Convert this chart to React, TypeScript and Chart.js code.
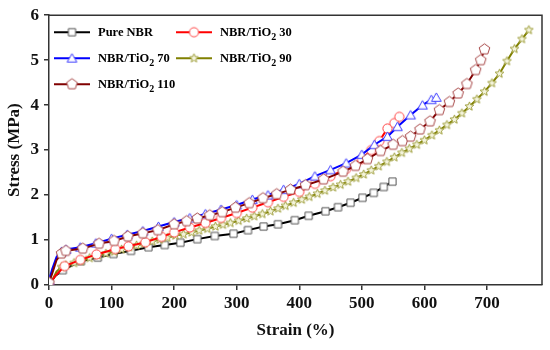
import React, { useEffect, useRef } from "react";
import { Chart, registerables } from "chart.js";

Chart.register(...registerables);

// ---- data ----
const pureStrain = [0, 10, 22, 51, 78, 103, 131, 159, 185, 210, 237, 265, 295, 318, 343, 366, 393, 415, 442, 462, 482, 501, 519, 535, 549];
const pureStress = [0, 0.2, 0.33, 0.53, 0.61, 0.69, 0.76, 0.84, 0.89, 0.94, 1.02, 1.09, 1.14, 1.22, 1.3, 1.35, 1.44, 1.54, 1.64, 1.73, 1.83, 1.94, 2.05, 2.18, 2.3];

const t30Strain = [0, 10, 25, 50, 76, 106, 127, 154, 180, 200, 225, 250, 275, 300, 325, 350, 375, 400, 425, 450, 475, 500, 515, 528, 541, 552, 560];
const t30Stress = [0, 0.2, 0.42, 0.56, 0.68, 0.8, 0.86, 0.95, 1.07, 1.17, 1.28, 1.38, 1.49, 1.6, 1.72, 1.84, 1.96, 2.07, 2.25, 2.42, 2.58, 2.8, 3.0, 3.2, 3.48, 3.6, 3.74];

const t70Strain = [0, 5, 12, 20, 27, 50, 75, 100, 125, 150, 175, 200, 225, 250, 275, 300, 325, 350, 375, 400, 425, 450, 475, 500, 520, 541, 557, 578, 597, 611, 619];
const t70Stress = [0.1, 0.35, 0.62, 0.74, 0.79, 0.84, 0.93, 1.03, 1.12, 1.2, 1.3, 1.4, 1.49, 1.58, 1.68, 1.78, 1.9, 2.0, 2.12, 2.25, 2.42, 2.56, 2.71, 2.9, 3.12, 3.3, 3.52, 3.78, 4.0, 4.12, 4.17];

const t90Strain = [0, 5, 12, 20, 27, 40, 51, 65, 78, 91, 104, 116, 128, 140, 152, 165, 177, 189, 202, 215, 228, 240, 253, 266, 278, 290, 303, 316, 328, 341, 354, 366, 378, 391, 404, 416, 429, 441, 454, 466, 478, 491, 503, 515, 527, 540, 552, 564, 576, 588, 600, 612, 624, 636, 648, 660, 672, 684, 696, 708, 720, 732, 744, 756, 767];
const t90Stress = [0, 0.1, 0.3, 0.4, 0.44, 0.49, 0.53, 0.6, 0.66, 0.7, 0.74, 0.79, 0.84, 0.88, 0.92, 0.97, 1.01, 1.05, 1.1, 1.13, 1.17, 1.21, 1.25, 1.3, 1.34, 1.38, 1.43, 1.48, 1.53, 1.58, 1.64, 1.7, 1.76, 1.83, 1.9, 1.96, 2.03, 2.1, 2.17, 2.23, 2.3, 2.38, 2.46, 2.55, 2.64, 2.74, 2.84, 2.94, 3.03, 3.12, 3.22, 3.33, 3.44, 3.56, 3.68, 3.82, 3.97, 4.13, 4.3, 4.49, 4.7, 4.98, 5.25, 5.47, 5.67];

const t110Strain = [0, 5, 12, 20, 27, 54, 80, 104, 126, 150, 174, 200, 220, 237, 257, 277, 298, 320, 342, 364, 386, 410, 439, 470, 490, 509, 530, 550, 565, 578, 593, 609, 624, 640, 654, 668, 682, 690, 696];
const t110Stress = [0.05, 0.25, 0.55, 0.7, 0.76, 0.81, 0.92, 0.98, 1.08, 1.15, 1.22, 1.35, 1.42, 1.48, 1.55, 1.62, 1.72, 1.82, 1.93, 2.02, 2.12, 2.22, 2.35, 2.52, 2.65, 2.8, 2.98, 3.12, 3.2, 3.3, 3.46, 3.64, 3.89, 4.07, 4.26, 4.47, 4.78, 5.0, 5.24];

const seriesLabels = ["Pure NBR", "NBR/TiO₂ 30", "NBR/TiO₂ 70", "NBR/TiO₂ 90", "NBR/TiO₂ 110"];
const xTickStep = 100;
const yTickStep = 1;

const FONT = "'Liberation Serif', 'Times New Roman', serif";

function makeMarker(kind: string, r: number, stroke: string, fill: string, lw: number): HTMLCanvasElement {
  const size = Math.ceil(2 * r + lw + 2);
  const c = document.createElement("canvas");
  c.width = size;
  c.height = size;
  const g = c.getContext("2d")!;
  const cx = size / 2;
  const cy = size / 2;
  g.beginPath();
  if (kind === "square") {
    g.rect(cx - r, cy - r, 2 * r, 2 * r);
  } else if (kind === "circle") {
    g.arc(cx, cy, r, 0, Math.PI * 2);
  } else {
    const star = kind === "star";
    const n = kind === "triangle" ? 3 : star ? 10 : 5;
    const oy = kind === "triangle" ? r * 0.18 : 0;
    for (let i = 0; i < n; i++) {
      const a = -Math.PI / 2 + (i * 2 * Math.PI) / n;
      const rr = star && i % 2 ? r * 0.45 : r;
      const px = cx + rr * Math.cos(a);
      const py = cy + oy + rr * Math.sin(a);
      if (i === 0) g.moveTo(px, py);
      else g.lineTo(px, py);
    }
    g.closePath();
  }
  g.fillStyle = fill;
  g.fill();
  g.lineWidth = lw;
  g.strokeStyle = stroke;
  g.stroke();
  return c;
}

function toPts(xs: number[], ys: number[]) {
  return xs.map((x, i) => ({ x, y: ys[i] }));
}

export default function App() {
  const ref = useRef<HTMLCanvasElement | null>(null);

  useEffect(() => {
    if (!ref.current) return;
    const colors = ["#000000", "#ff0000", "#0000ff", "#808000", "#800000"];
    const markers = [
      makeMarker("square", 3.6, "#555555", "#ffffff", 1),
      makeMarker("circle", 4.6, "#ff4040", "#ffffff", 1),
      makeMarker("triangle", 5.6, "#3a3aff", "#ffffff", 1),
      makeMarker("star", 4.6, "#a0a040", "#f4f4dc", 1),
      makeMarker("pentagon", 5.6, "#a84848", "#ffffff", 1),
    ];
    const xs = [pureStrain, t30Strain, t70Strain, t90Strain, t110Strain];
    const ys = [pureStress, t30Stress, t70Stress, t90Stress, t110Stress];

    const datasets = seriesLabels.map((label, i) => ({
      label,
      data: toPts(xs[i], ys[i]),
      borderColor: colors[i],
      backgroundColor: colors[i],
      borderWidth: 2,
      pointStyle: markers[i] as any,
      // hide markers on the steep initial rise (the reference shows none there)
      pointRadius: (ctx: any) => {
        const v = ctx.raw ? ctx.raw.x : 0;
        return v > 0 && v < 20 ? 0 : 5;
      },
      tension: 0,
      order: [5, 3, 2, 4, 1][i],
    }));

    const boxPlugin = {
      id: "boxAndLegend",
      afterDraw(chart: any) {
        const { ctx, chartArea } = chart;
        const { left, top, right, bottom } = chartArea;
        ctx.save();
        ctx.strokeStyle = "#333333";
        ctx.lineWidth = 1.5;
        ctx.beginPath();
        ctx.moveTo(left, top);
        ctx.lineTo(right, top);
        ctx.lineTo(right, bottom);
        ctx.stroke();

        // legend inside the plot area
        const rows = [top + 17, top + 43, top + 69];
        const cols = [left + 5, left + 127];
        const pos = [
          [cols[0], rows[0]],
          [cols[1], rows[0]],
          [cols[0], rows[1]],
          [cols[1], rows[1]],
          [cols[0], rows[2]],
        ];
        seriesLabels.forEach((label, i) => {
          const [x, y] = pos[i];
          ctx.strokeStyle = colors[i];
          ctx.lineWidth = 2;
          ctx.beginPath();
          ctx.moveTo(x, y);
          ctx.lineTo(x + 36, y);
          ctx.stroke();
          const m = markers[i];
          ctx.drawImage(m, x + 18 - m.width / 2, y - m.height / 2);
          ctx.fillStyle = "#000000";
          ctx.textBaseline = "alphabetic";
          ctx.textAlign = "left";
          let tx = x + 44;
          const base = y + 4;
          const idx = label.indexOf("₂");
          if (idx < 0) {
            ctx.font = `bold 12.5px ${FONT}`;
            ctx.fillText(label, tx, base);
          } else {
            const a = label.slice(0, idx);
            const b = label.slice(idx + 1);
            ctx.font = `bold 12.5px ${FONT}`;
            ctx.fillText(a, tx, base);
            tx += ctx.measureText(a).width;
            ctx.font = `bold 10px ${FONT}`;
            ctx.fillText("2", tx, base + 4);
            tx += ctx.measureText("2").width;
            ctx.font = `bold 12.5px ${FONT}`;
            ctx.fillText(b, tx, base);
          }
        });
        ctx.restore();
      },
    };

    const chart = new Chart(ref.current, {
      type: "line",
      data: { datasets },
      plugins: [boxPlugin],
      options: {
        animation: false,
        responsive: false,
        devicePixelRatio: 1,
        layout: { padding: { left: 0, top: 15, right: 8, bottom: 0 } },
        plugins: { legend: { display: false }, tooltip: { enabled: false } },
        scales: {
          x: {
            type: "linear",
            min: 0,
            max: 788,
            afterFit: (s: any) => {
              s.height = 65;
            },
            ticks: {
              stepSize: xTickStep,
              includeBounds: false,
              color: "#111111",
              padding: 3,
              maxRotation: 0,
              font: { family: FONT, weight: "bold", size: 17 },
            },
            grid: { drawOnChartArea: false, drawTicks: true, tickLength: 5, color: "#333333", lineWidth: 1.5 },
            border: { color: "#333333", width: 1.5 },
            title: {
              display: true,
              text: "Strain (%)",
              color: "#111111",
              font: { family: FONT, weight: "bold", size: 17 },
              padding: { top: 0, bottom: 9 },
            },
          },
          y: {
            type: "linear",
            min: 0,
            max: 6,
            afterFit: (s: any) => {
              s.width = 49;
            },
            ticks: {
              stepSize: yTickStep,
              includeBounds: false,
              color: "#111111",
              padding: 5,
              font: { family: FONT, weight: "bold", size: 17 },
            },
            grid: { drawOnChartArea: false, drawTicks: true, tickLength: 5, color: "#333333", lineWidth: 1.5 },
            border: { color: "#333333", width: 1.5 },
            title: {
              display: true,
              text: "Stress (MPa)",
              color: "#111111",
              font: { family: FONT, weight: "bold", size: 17 },
              padding: { top: 4, bottom: 0 },
            },
          },
        },
      } as any,
    });
    return () => chart.destroy();
  }, []);

  return (
    <div style={{ position: "fixed", left: 0, top: 0, width: 550, height: 350, background: "#ffffff" }}>
      <canvas ref={ref} width={550} height={350} />
    </div>
  );
}
